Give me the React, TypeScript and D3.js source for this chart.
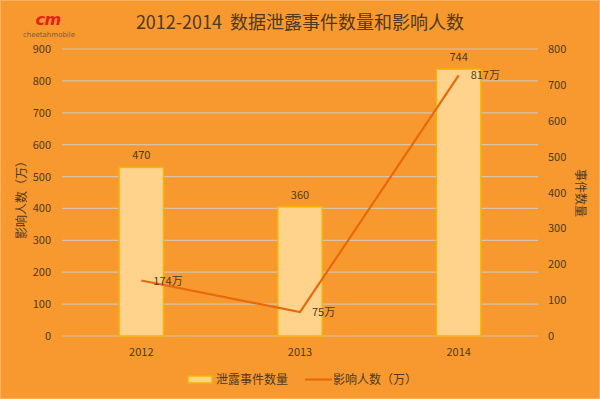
import React from "react";
import * as d3 from "d3";

const years = ["2012", "2013", "2014"];
const leakCounts = [470, 360, 744];
const affectedPeople = [174, 75, 817];
const leftTicks = [0, 100, 200, 300, 400, 500, 600, 700, 800, 900];
const rightTicks = [0, 100, 200, 300, 400, 500, 600, 700, 800];
const title = "2012-2014  数据泄露事件数量和影响人数";
const barSeriesName = "泄露事件数量";
const lineSeriesName = "影响人数（万）";
const leftAxisTitle = "影响人数（万）";
const rightAxisTitle = "事件数量";

const W = 600;
const H = 399;
const M = { left: 62, right: 538, top: 49, bottom: 336 };
const FONT = "'Noto Sans CJK SC', 'Noto Sans', sans-serif";
const BG = "#F7992E";
const TXT = "#4E3A24";

export default function App() {
  const x = d3.scaleBand().domain(years).range([M.left, M.right]).paddingInner(0.72).paddingOuter(0.36);
  const yL = d3.scaleLinear().domain([0, 900]).range([M.bottom, M.top]);
  const yR = d3.scaleLinear().domain([0, 800]).range([M.bottom, M.top]);
  const cx = (y: string) => (x(y) as number) + x.bandwidth() / 2;
  const line = d3
    .line<number>()
    .x((_, i) => cx(years[i]))
    .y((d) => yL(d));

  return (
    <svg
      width={W}
      height={H}
      style={{ position: "absolute", left: 0, top: 0, display: "block" }}
      fontFamily={FONT}
    >
      <rect x={0} y={0} width={W} height={H} fill={BG} />
      <rect x={0.5} y={0.5} width={W - 1} height={H - 1} fill="none" stroke="#F9B060" strokeWidth={1} />

      {/* logo */}
      <g>
        <text x={48} y={25} textAnchor="middle" fill="#E8201A" fontSize={16} fontWeight={900} fontStyle="italic" fontFamily="'DejaVu Sans', sans-serif" letterSpacing={-0.5}>
          cm
        </text>
        <text x={49} y={37} textAnchor="middle" fill="#7A5A40" fontSize={7} fontFamily="'DejaVu Sans', sans-serif">
          cheetahmobile
        </text>
      </g>

      <text x={300} y={29} textAnchor="middle" fill={TXT} fontSize={18} style={{ whiteSpace: "pre" }}>
        {title}
      </text>

      {/* gridlines */}
      {leftTicks.map((t) => (
        <line key={t} x1={M.left} x2={M.right} y1={yL(t)} y2={yL(t)} stroke="#D6C4AE" strokeWidth={1.2} />
      ))}

      {/* left ticks */}
      {leftTicks.map((t) => (
        <text key={t} x={51} y={yL(t) + 4} textAnchor="end" fill={TXT} fontSize={11}>
          {t}
        </text>
      ))}
      {/* right ticks */}
      {rightTicks.map((t) => (
        <text key={t} x={548} y={yR(t) + 4} textAnchor="start" fill={TXT} fontSize={11}>
          {t}
        </text>
      ))}

      <text transform={`translate(26,197) rotate(-90)`} textAnchor="middle" fill={TXT} fontSize={12}>
        {leftAxisTitle}
      </text>
      <text transform={`translate(576,193) rotate(90)`} textAnchor="middle" fill={TXT} fontSize={12}>
        {rightAxisTitle}
      </text>

      {/* bars */}
      {leakCounts.map((v, i) => (
        <g key={years[i]}>
          <rect
            x={x(years[i])}
            y={yR(v)}
            width={x.bandwidth()}
            height={yR(0) - yR(v)}
            fill="#FFD38C"
            stroke="#F5B400"
            strokeWidth={1.5}
          />
          <text x={cx(years[i])} y={yR(v) - 8} textAnchor="middle" fill={TXT} fontSize={11}>
            {v}
          </text>
        </g>
      ))}

      {/* line */}
      <path d={line(affectedPeople) || ""} fill="none" stroke="#E8690A" strokeWidth={2.2} />
      {affectedPeople.map((v, i) => (
        <text key={years[i]} x={cx(years[i]) + 12} y={yL(v) + 4} textAnchor="start" fill={TXT} fontSize={11}>
          {v}万
        </text>
      ))}

      {/* x labels */}
      {years.map((y) => (
        <text key={y} x={cx(y)} y={356} textAnchor="middle" fill={TXT} fontSize={11}>
          {y}
        </text>
      ))}

      {/* legend */}
      <rect x={188} y={376} width={24} height={7} fill="#FFD38C" stroke="#F5B400" strokeWidth={1.5} />
      <text x={216} y={384} fill={TXT} fontSize={12}>
        {barSeriesName}
      </text>
      <line x1={305} x2={332} y1={379.5} y2={379.5} stroke="#E8690A" strokeWidth={2.2} />
      <text x={333} y={384} fill={TXT} fontSize={12}>
        {lineSeriesName}
      </text>
    </svg>
  );
}
